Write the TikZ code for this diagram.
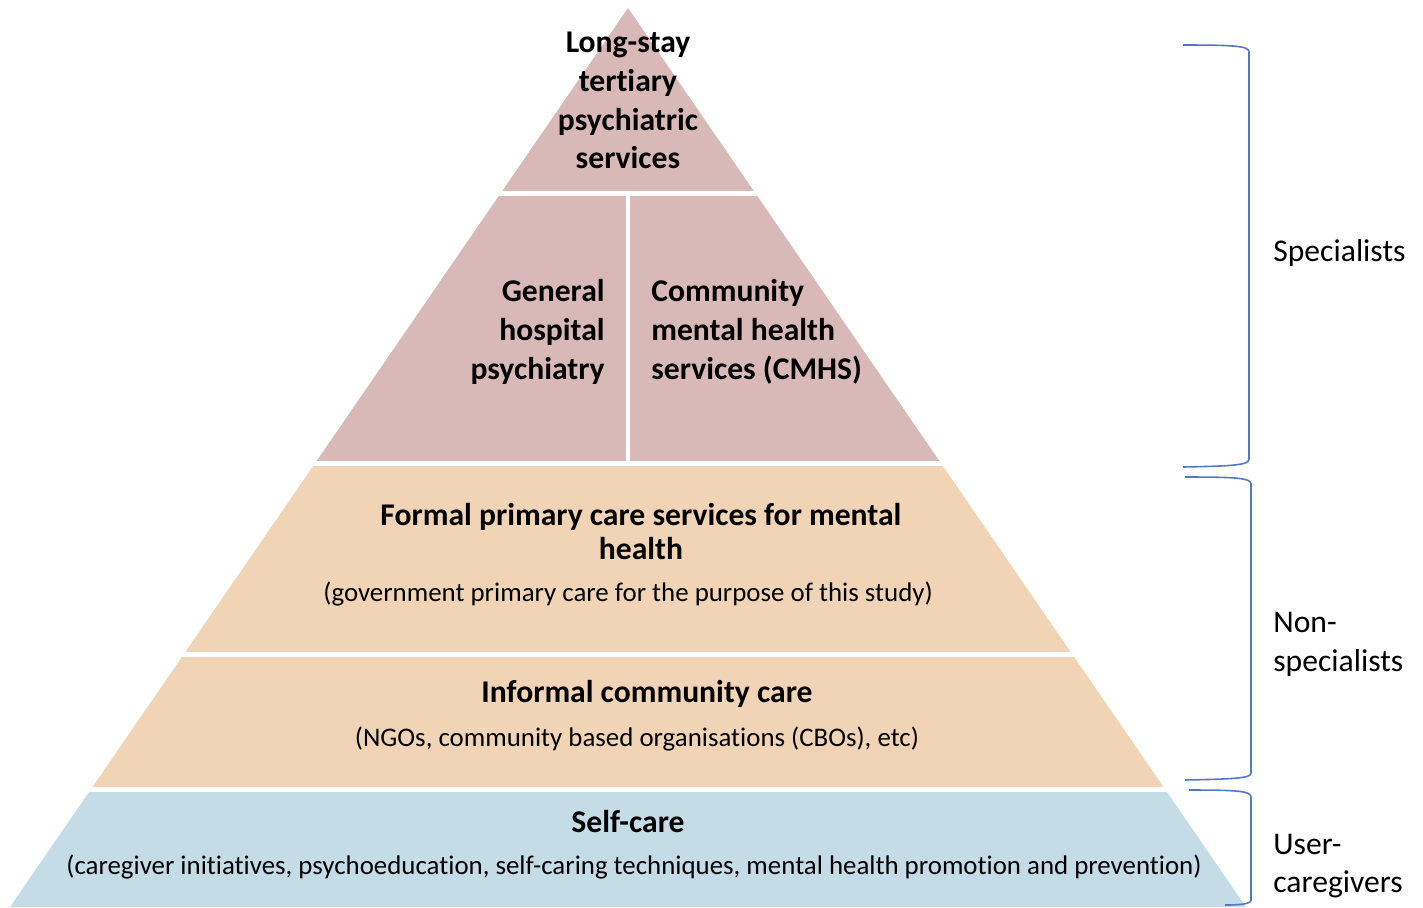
\documentclass[tikz,border=0pt]{standalone}
\usepackage{fontspec}
\setmainfont[Ligatures=NoCommon]{Carlito}
\usetikzlibrary{positioning}
\definecolor{specpink}{RGB}{217,184,184}
\definecolor{nonpeach}{RGB}{241,212,182}
\definecolor{selfblue}{RGB}{195,220,230}
\definecolor{bracecol}{RGB}{80,120,195}

\begin{document}
\begin{tikzpicture}[x=0.02cm, y=-0.02cm, font=\fontsize{18}{22.1}\selectfont]
    \tikzstyle{bighead}=[font=\fontsize{18}{22.1}\selectfont\bfseries, inner sep=0pt]
    \tikzstyle{tierhead}=[font=\fontsize{18}{19.8}\selectfont\bfseries, align=center, inner sep=0pt]
    \tikzstyle{tiernote}=[font=\fontsize{15.3}{18}\selectfont, inner sep=0pt]
    \tikzstyle{sidelabel}=[font=\fontsize{18}{22.1}\selectfont, align=left, anchor=west, inner sep=0pt]
    \tikzstyle{gap}=[draw=white, line width=2.8pt]
    \tikzstyle{brace}=[draw=bracecol, line width=0.9pt]

    \useasboundingbox (0,0) rectangle (1423,907);

    \coordinate (apex) at (628,8);
    \coordinate (baseL) at (10,907);
    \coordinate (baseR) at (1246,907);

    % pyramid bands
    \begin{scope}
        \clip (apex) -- (baseL) -- (baseR) -- cycle;
        \fill[specpink] (0,0) rectangle (1423,463);
        \fill[nonpeach] (0,463) rectangle (1423,789);
        \fill[selfblue] (0,789) rectangle (1423,907);
        \draw[gap] (0,193.5) -- (1423,193.5);
        \draw[gap] (0,463.5) -- (1423,463.5);
        \draw[gap] (0,654.5) -- (1423,654.5);
        \draw[gap] (0,789.5) -- (1423,789.5);
        \draw[gap] (628,193) -- (628,464);
    \end{scope}

    % tier texts
    \node[bighead, align=center] (tertiary) at (628,100.5) {Long-stay\\tertiary\\psychiatric\\services};
    \node[bighead, align=right, anchor=east] (general) at (605,332) {General\\hospital\\psychiatry};
    \node[bighead, align=left, anchor=west] (cmhs) at (651,332) {Community\\mental health\\services (CMHS)};

    \node[tierhead] (formal) at (641,531.5) {Formal primary care services for mental\\health};
    \node[tiernote] (formalnote) at (628,594) {(government primary care for the purpose of this study)};

    \node[tierhead] (informal) at (647,694) {Informal community care};
    \node[tiernote] (informalnote) at (637,739) {(NGOs, community based organisations (CBOs), etc)};

    \node[tierhead] (selfcare) at (628,822) {Self-care};
    \node[tiernote] (selfnote) at (634,867) {(caregiver initiatives, psychoeducation, self-caring techniques, mental health promotion and prevention)};

    % braces
    \draw[brace] (1183,45) .. controls (1235,45) and (1249,46) .. (1249,52) -- (1249,459) .. controls (1249,465) and (1235,466) .. (1183,467);
    \draw[brace] (1185,477) .. controls (1237,477) and (1251,478) .. (1251,484) -- (1251,773) .. controls (1251,778) and (1237,779) .. (1185,780);
    \draw[brace] (1189,790) .. controls (1238,790) and (1251,791) .. (1251,797) -- (1251,900) .. controls (1251,904) and (1240,905) .. (1225,905);

    \node[sidelabel] (spec) at (1273,253) {Specialists};
    \node[sidelabel] (nonspec) at (1273,644) {Non-\\specialists};
    \node[sidelabel] (usercare) at (1273,866) {User-\\caregivers};
\end{tikzpicture}
\end{document}
